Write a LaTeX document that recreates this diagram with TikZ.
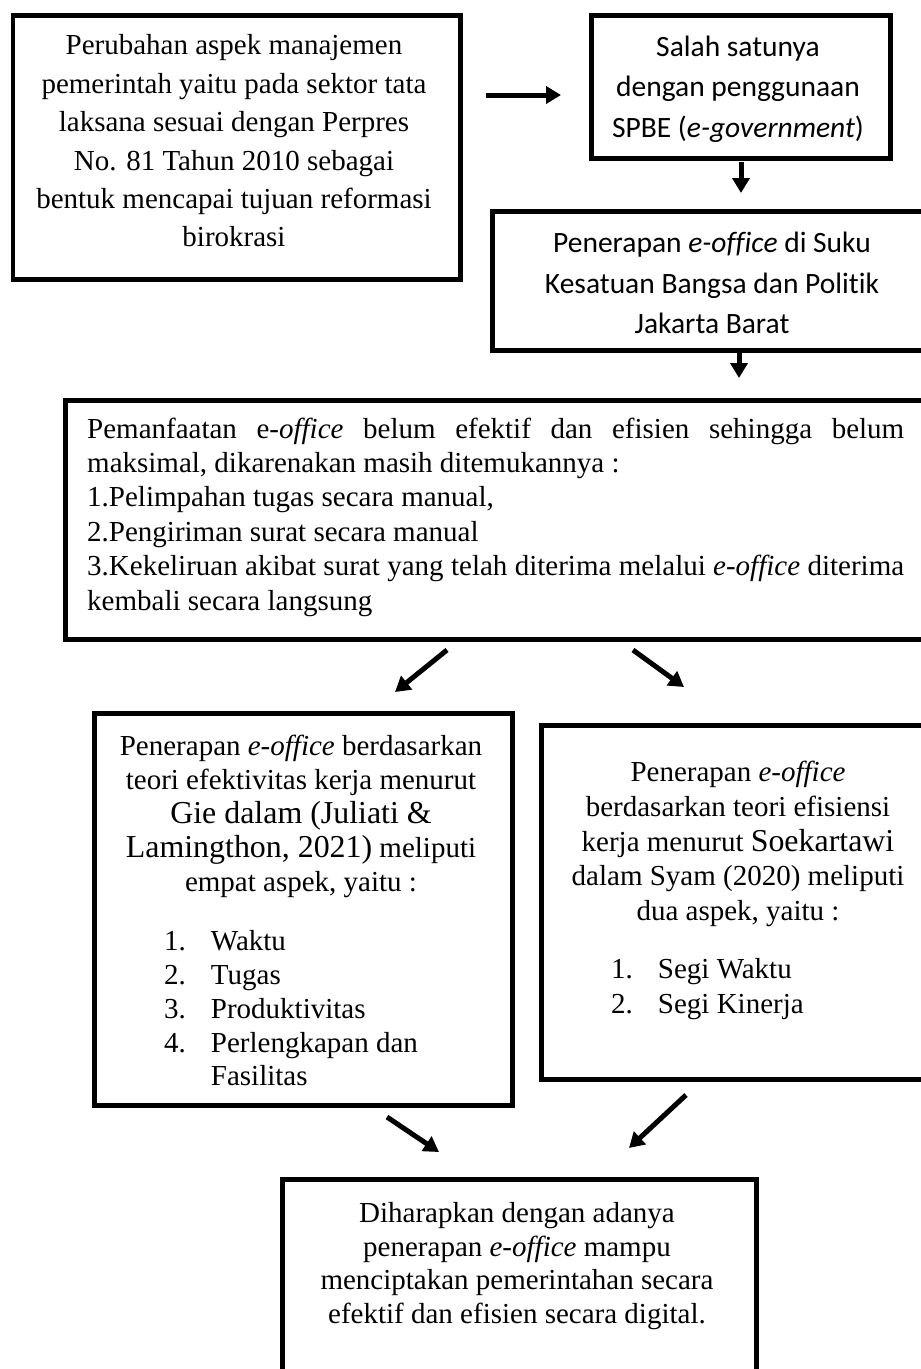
\documentclass[tikz,border=0pt]{standalone}
\usepackage{fontspec}
\usepackage{graphicx}
\setmainfont{Liberation Serif}[Ligatures=NoCommon]
\newfontfamily\calfont{Carlito}[Ligatures=NoCommon]
\newcommand\enlargetxt[1]{\scalebox{1.1}{#1}}
\usetikzlibrary{arrows.meta}
\tikzset{
  box/.style={draw, line width=4.5pt, rectangle, inner sep=0pt, anchor=north west},
  serif/.style={inner sep=0pt, align=center, font=\fontsize{29}{#1}\selectfont},
  sans/.style={inner sep=0pt, align=center, font=\calfont\fontsize{29.5}{#1}\selectfont},
  arr/.style={line width=5pt, -{Triangle[length=15pt,width=17pt]}},
}
\begin{document}
\begin{tikzpicture}[x=1pt,y=-1pt]
\path[use as bounding box] (0,0) rectangle (921,1369);
\clip (0,0) rectangle (921,1369);
% boxes
\node[box, minimum width=447.5pt, minimum height=264pt] (b1) at (10.5,13) {};
\node[box, minimum width=299pt, minimum height=143pt] (b2) at (589,13) {};
\node[box, minimum width=444pt, minimum height=139pt] (b3) at (490,209) {};
\node[box, minimum width=880pt, minimum height=239pt] (b4) at (63,398) {};
\node[box, minimum width=418pt, minimum height=392pt] (b5) at (92,711) {};
\node[box, minimum width=398pt, minimum height=354pt] (b6) at (539,723) {};
\node[box, minimum width=474pt, minimum height=240pt] (b7) at (280,1177) {};
% texts
\node[serif=38.4] (t1) at (234,141) {Perubahan aspek manajemen\\ pemerintah yaitu pada sektor tata\\ laksana sesuai dengan Perpres\\ No. 81 Tahun 2010 sebagai\\ bentuk mencapai tujuan reformasi\\ birokrasi};
\node[sans=40.7] (t2) at (738,89) {Salah satunya\\ dengan penggunaan\\ SPBE (\textit{e-government})};
\node[sans=40.5] (t3) at (712,283) {Penerapan \textit{e-office} di Suku\\ Kesatuan Bangsa dan Politik\\ Jakarta Barat};
\node[serif=34.4, align=left, anchor=west] (t4) at (87,517) {\makebox[817pt][s]{Pemanfaatan e-\textit{office} belum efektif dan efisien sehingga belum}\\ maksimal, dikarenakan masih ditemukannya :\\ 1.Pelimpahan tugas secara manual,\\ 2.Pengiriman surat secara manual\\ \makebox[817pt][s]{3.Kekeliruan akibat surat yang telah diterima melalui \textit{e-office} diterima}\\ kembali secara langsung};
\node[serif=34] (t5) at (301,816) {Penerapan \textit{e-office} berdasarkan\\ teori efektivitas kerja menurut\\ \enlargetxt{Gie dalam (Juliati \&}\\ \enlargetxt{Lamingthon, 2021)} meliputi\\ empat aspek, yaitu :};
\node[serif=33.8, align=left, anchor=west] (l5) at (164,1011.5) {\begin{tabular}{@{}l@{\hspace{25pt}}l@{}}1. & Waktu\\ 2. & Tugas\\ 3. & Produktivitas\\ 4. & Perlengkapan dan\\ & Fasilitas\end{tabular}};
\node[serif=34.8] (t6) at (738,844) {Penerapan \textit{e-office}\\ berdasarkan teori efisiensi\\ kerja menurut \enlargetxt{Soekartawi}\\ dalam Syam (2020) meliputi\\ dua aspek, yaitu :};
\node[serif=35, align=left, anchor=west] (l6) at (611,988.5) {\begin{tabular}{@{}l@{\hspace{25pt}}l@{}}1. & Segi Waktu\\ 2. & Segi Kinerja\end{tabular}};
\node[serif=33.5] (t7) at (517,1266) {Diharapkan dengan adanya\\ penerapan \textit{e-office} mampu\\ menciptakan pemerintahan secara\\ efektif dan efisien secara digital.};
% arrow end points
\coordinate (a1s) at (486,95);  \coordinate (a1e) at (561,95);
\coordinate (a2s) at (741,162); \coordinate (a2e) at (741,193);
\coordinate (a3s) at (739,350); \coordinate (a3e) at (739,378);
\coordinate (a4s) at (447,650); \coordinate (a4e) at (395,692);
\coordinate (a5s) at (633,650); \coordinate (a5e) at (684,687);
\coordinate (a6s) at (387,1117); \coordinate (a6e) at (439,1152);
\coordinate (a7s) at (686,1095); \coordinate (a7e) at (629,1148);
\draw[arr] (a1s) -- (a1e);
\draw[arr] (a2s) -- (a2e);
\draw[arr] (a3s) -- (a3e);
\draw[arr] (a4s) -- (a4e);
\draw[arr] (a5s) -- (a5e);
\draw[arr] (a6s) -- (a6e);
\draw[arr] (a7s) -- (a7e);
\end{tikzpicture}
\end{document}
